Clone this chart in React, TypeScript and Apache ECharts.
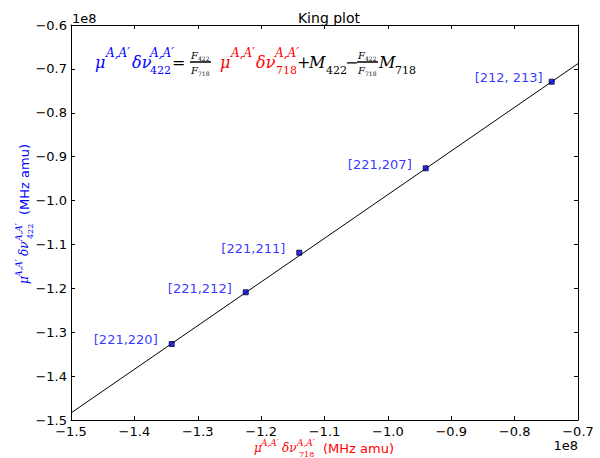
import React, { useEffect, useRef } from "react";
import * as echarts from "echarts";

// Data (actual units; axes show them scaled by 1e8)
const pointX = [-134110000, -122430000, -113980000, -94030000, -74150000];
const pointY = [-132680000, -120900000, -111880000, -92650000, -72920000];
const pointLabels = ["[221,220]", "[221,212]", "[221,211]", "[221,207]", "[212, 213]"];
const fitX = [-150000000, -70000000];
const fitY = [-148400000, -68800000];
const xTicks = { min: -150000000, max: -70000000, interval: 10000000 };
const yTicks = { min: -150000000, max: -60000000, interval: 10000000 };
const SCALE = 1e8;

const SERIF = '"DejaVu Serif", "Liberation Serif", serif';
const SANS = '"DejaVu Sans", sans-serif';
const BLUE = "#0000ff";
const RED = "#ff0000";
const BLACK = "#000000";

function txt(s: string, x: number, base: number, size: number, color: string, italic: boolean, family = SERIF): any {
  return {
    type: "text",
    x,
    y: base - 0.3 * size,
    silent: true,
    style: {
      text: s,
      fill: color,
      fontSize: size,
      fontFamily: family,
      fontStyle: italic ? "italic" : "normal",
      align: "left",
      verticalAlign: "middle",
    },
  };
}

function axisNameChildren(color: string, sub: string): any[] {
  return [
    txt("\u03bc", 0, 0, 12, color, true),
    txt("A,A\u2032", 7, -6, 9, color, true),
    txt("\u03b4\u03bd", 28, 0, 12, color, true),
    txt("A,A\u2032", 43, -6, 9, color, true),
    txt(sub, 45, 5, 8, color, false),
    txt("(MHz amu)", 69, 0, 13, color, false, SANS),
  ];
}

function fraction(x: number, color: string): any[] {
  return [
    txt("F", x + 1, 58, 10, color, true),
    txt("422", x + 8, 60, 6, color, false),
    { type: "line", silent: true, shape: { x1: x, y1: 62, x2: x + 21, y2: 62 }, style: { stroke: color, lineWidth: 1.5 } },
    txt("F", x + 1, 73, 10, color, true),
    txt("718", x + 8, 75, 6, color, false),
  ];
}

function formulaElements(): any[] {
  return [
    txt("\u03bc", 95, 67, 16, BLUE, true),
    txt("A,A\u2032", 106, 57, 12, BLUE, true),
    txt("\u03b4\u03bd", 132, 67, 16, BLUE, true),
    txt("A,A\u2032", 150, 57, 12, BLUE, true),
    txt("422", 150, 74, 11, BLUE, false),
    txt("=", 172, 67, 16, BLACK, false),
    ...fraction(190, BLACK),
    txt("\u03bc", 220, 67, 16, RED, true),
    txt("A,A\u2032", 231, 57, 12, RED, true),
    txt("\u03b4\u03bd", 256, 67, 16, RED, true),
    txt("A,A\u2032", 275, 57, 12, RED, true),
    txt("718", 276, 74, 11, RED, false),
    txt("+", 297, 67, 16, BLACK, false),
    txt("M", 309, 67, 16, BLACK, true),
    txt("422", 326, 74, 11, BLACK, false),
    txt("\u2212", 345, 67, 16, BLACK, false),
    ...fraction(357, BLACK),
    txt("M", 379, 67, 16, BLACK, true),
    txt("718", 395, 74, 11, BLACK, false),
  ];
}

const fmt = (v: number) => (v / SCALE).toFixed(1).replace("-", "\u2212");

export default function App() {
  const ref = useRef<HTMLDivElement>(null);
  useEffect(() => {
    if (!ref.current) return;
    const chart = echarts.init(ref.current, undefined, { renderer: "svg" });
    const axisCommon = {
      type: "value",
      axisLine: { show: true, onZero: false, lineStyle: { color: BLACK, width: 1 } },
      axisTick: { show: true, inside: true, length: 4, lineStyle: { color: BLACK } },
      splitLine: { show: false },
    };
    const hiddenLabels = { show: false };
    const tickLabel = { fontFamily: SANS, fontSize: 13, color: BLACK, formatter: fmt, showMinLabel: true, showMaxLabel: true };
    chart.setOption({
      animation: false,
      backgroundColor: "#ffffff",
      title: {
        text: "King plot",
        left: 324,
        top: 6,
        textAlign: "center",
        textStyle: { fontFamily: SANS, fontSize: 14, fontWeight: "normal", color: BLACK },
      },
      grid: { left: 71, right: 22, top: 25, bottom: 38, containLabel: false },
      xAxis: [
        { ...axisCommon, ...xTicks, position: "bottom", axisLabel: { ...tickLabel, margin: 5 } },
        { ...axisCommon, ...xTicks, position: "top", axisLabel: hiddenLabels },
      ],
      yAxis: [
        { ...axisCommon, ...yTicks, position: "left", axisLabel: { ...tickLabel, margin: 4 } },
        { ...axisCommon, ...yTicks, position: "right", axisLabel: hiddenLabels },
      ],
      series: [
        {
          type: "line",
          data: fitX.map((x, i) => [x, fitY[i]]),
          symbol: "none",
          lineStyle: { color: BLACK, width: 1 },
          silent: true,
          z: 2,
        },
        {
          type: "scatter",
          data: pointX.map((x, i) => ({
            value: [x, pointY[i]],
            label: { distance: i === pointX.length - 1 ? 6 : 11 },
          })),
          symbol: "rect",
          symbolSize: 5,
          itemStyle: { color: "#0000dd", borderColor: "#000033", borderWidth: 1 },
          label: {
            show: true,
            position: "left",
            offset: [0, -4],
            formatter: (p: any) => pointLabels[p.dataIndex],
            fontFamily: SANS,
            fontSize: 13,
            color: BLUE,
          },
          z: 3,
        },
      ],
      graphic: [
        { type: "text", x: 72, y: 18, silent: true, style: { text: "1e8", fontFamily: SANS, fontSize: 13, fill: BLACK, align: "left", verticalAlign: "middle" } },
        { type: "text", x: 578, y: 445, silent: true, style: { text: "1e8", fontFamily: SANS, fontSize: 13, fill: BLACK, align: "right", verticalAlign: "middle" } },
        ...formulaElements(),
        { type: "group", x: 254, y: 452, children: axisNameChildren(RED, "718") },
        { type: "group", x: 28, y: 284, rotation: Math.PI / 2, children: axisNameChildren(BLUE, "422") },
      ],
    });
    return () => chart.dispose();
  }, []);
  return <div ref={ref} style={{ position: "absolute", left: 0, top: 0, width: 600, height: 458 }} />;
}
